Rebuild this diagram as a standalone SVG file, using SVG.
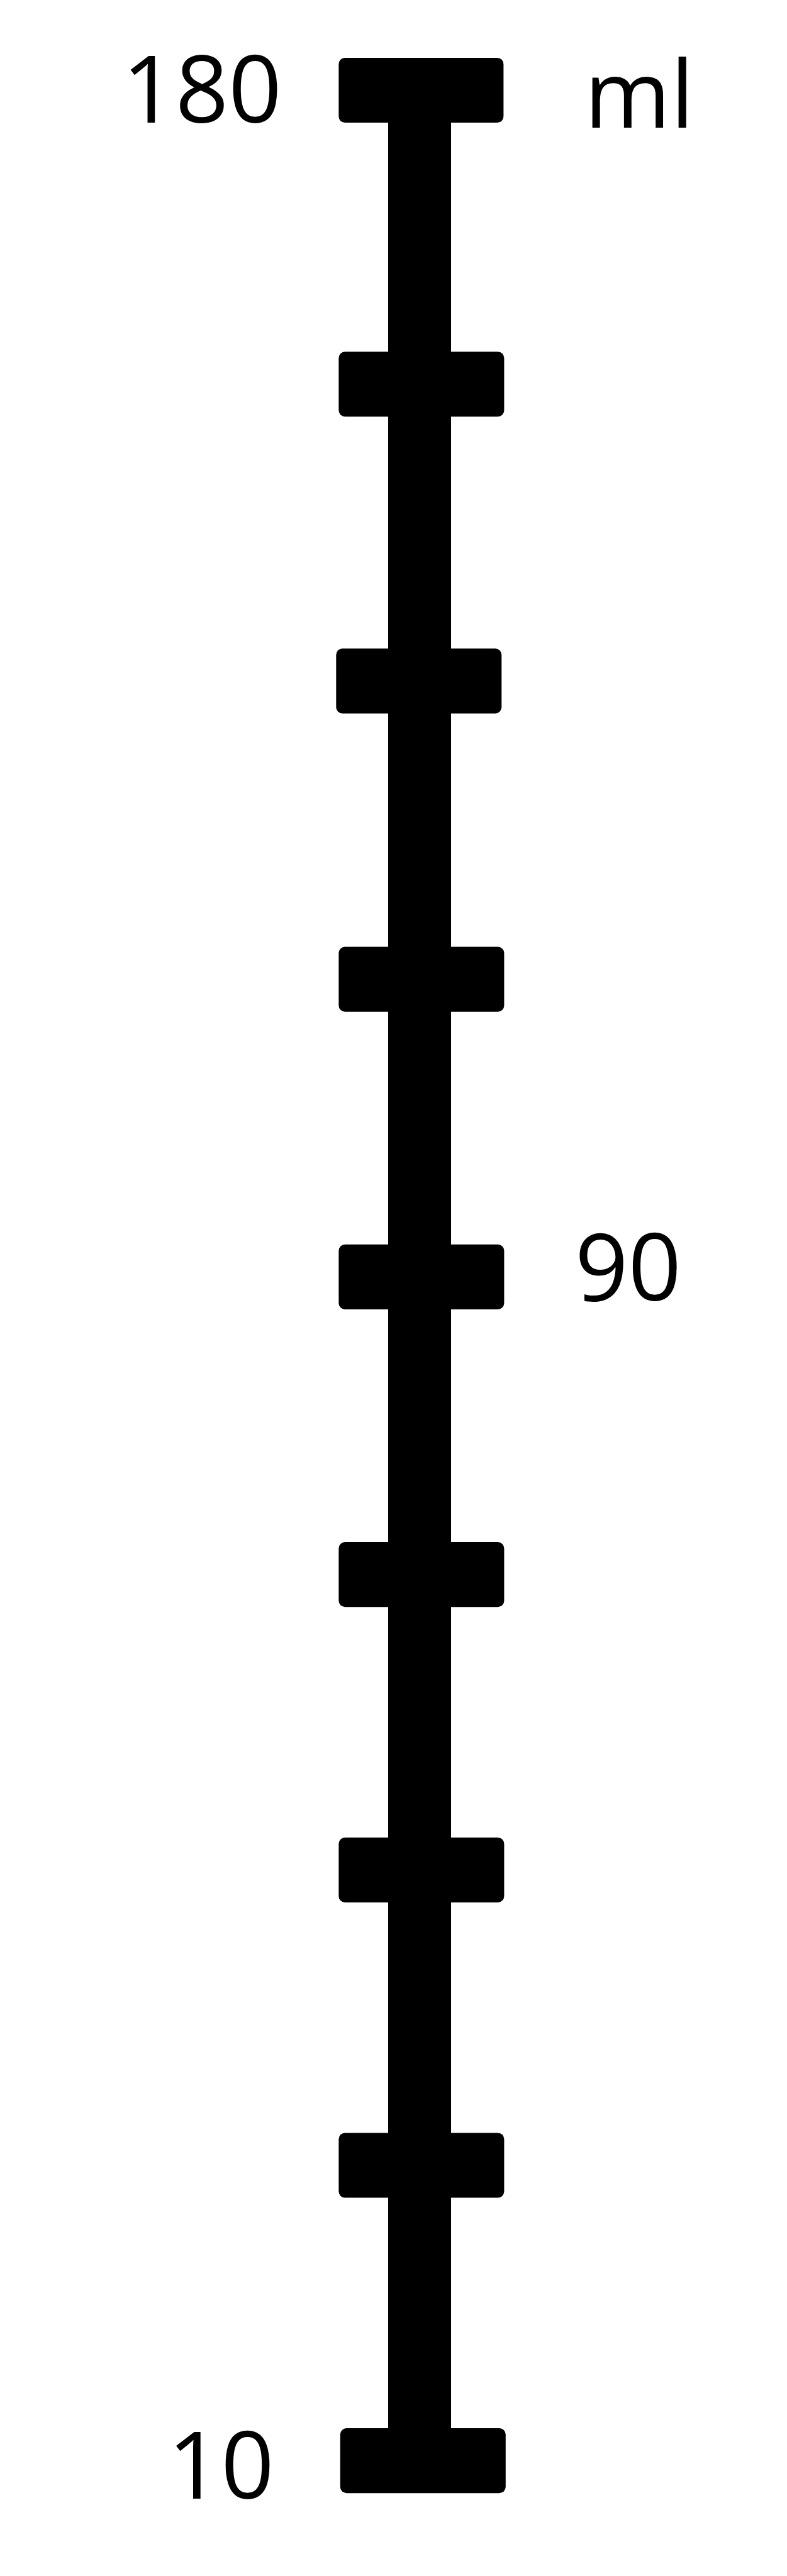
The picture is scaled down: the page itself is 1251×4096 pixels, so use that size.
<svg xmlns="http://www.w3.org/2000/svg" width="1251" height="4096" viewBox="0 0 1251 4096">
<style>
.tick{fill:#000}
.lbl{font-family:"Open Sans","Liberation Sans",sans-serif;font-size:148px;fill:#000}
</style>
<rect width="1251" height="4096" fill="#fff"/>
<g id="connectors">
<rect id="stem" x="617" y="150" width="100" height="3760" fill="#000"/>
</g>
<g id="tick-180"><rect class="tick" x="538.4" y="91.9" width="262" height="103.2" rx="10"/></g>
<g id="tick-2"><rect class="tick" x="538.4" y="559.2" width="263" height="103.2" rx="10"/></g>
<g id="tick-3"><rect class="tick" x="534.3" y="1031.2" width="263" height="103.2" rx="10"/></g>
<g id="tick-4"><rect class="tick" x="538.4" y="1505.6" width="263" height="103.2" rx="10"/></g>
<g id="tick-90"><rect class="tick" x="538.4" y="1978.8" width="263" height="103.2" rx="10"/></g>
<g id="tick-6"><rect class="tick" x="538.4" y="2452.1" width="263" height="103.2" rx="10"/></g>
<g id="tick-7"><rect class="tick" x="538.4" y="2921.7" width="263" height="103.2" rx="10"/></g>
<g id="tick-8"><rect class="tick" x="538.4" y="3391.4" width="263" height="103.2" rx="10"/></g>
<g id="tick-10"><rect class="tick" x="540.8" y="3861" width="263" height="103.2" rx="10"/></g>
<g id="labels">
<text class="lbl" x="448" y="195" text-anchor="end">180</text>
<text class="lbl" x="929" y="203">ml</text>
<text class="lbl" x="914" y="2068">90</text>
<text class="lbl" x="436" y="3973" text-anchor="end">10</text>
</g>
</svg>
